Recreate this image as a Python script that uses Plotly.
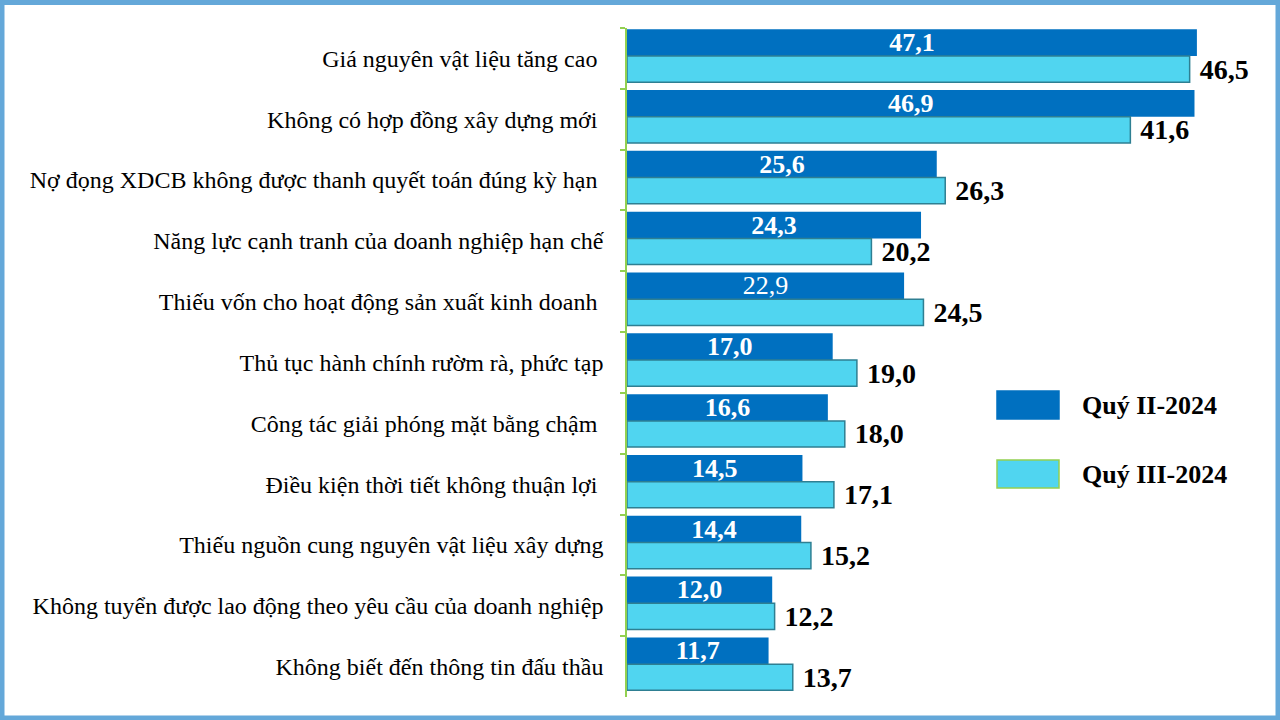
import plotly.graph_objects as go

# Dữ liệu
categories = [
    "Giá nguyên vật liệu tăng cao ",
    "Không có hợp đồng xây dựng mới ",
    "Nợ đọng XDCB không được thanh quyết toán đúng kỳ hạn ",
    "Năng lực cạnh tranh của doanh nghiệp hạn chế",
    "Thiếu vốn cho hoạt động sản xuất kinh doanh ",
    "Thủ tục hành chính rườm rà, phức tạp",
    "Công tác giải phóng mặt bằng chậm ",
    "Điều kiện thời tiết không thuận lợi ",
    "Thiếu nguồn cung nguyên vật liệu xây dựng",
    "Không tuyển được lao động theo yêu cầu của doanh nghiệp",
    "Không biết đến thông tin đấu thầu",
]
q2_name = "Quý II-2024"
q3_name = "Quý III-2024"
q2_values = [47.1, 46.9, 25.6, 24.3, 22.9, 17.0, 16.6, 14.5, 14.4, 12.0, 11.7]
q3_values = [46.5, 41.6, 26.3, 20.2, 24.5, 19.0, 18.0, 17.1, 15.2, 12.2, 13.7]

W, H = 1280, 720
L, R, T, B = 627, 23, 28, 23
PW, PH = W - L - R, H - T - B
FONT = "Liberation Serif"


def vn(v):
    return f"{v:.1f}".replace(".", ",")


def px(x, y):
    # pixel -> paper
    return (x - L) / PW, (H - B - y) / PH


q2_text = [vn(v) if v == 22.9 else f"<b>{vn(v)}</b>" for v in q2_values]
q3_text = [f"\u00a0<b>{vn(v)}</b>" for v in q3_values]

fig = go.Figure()
fig.add_trace(go.Bar(
    y=categories, x=q2_values, orientation="h", name=q2_name,
    offset=-0.48, width=0.44,
    marker=dict(color="#0070C0", line=dict(width=0)),
    text=q2_text, textposition="inside", insidetextanchor="middle",
    constraintext="none",
    textfont=dict(family=FONT, size=26, color="white"),
    cliponaxis=False,
))
fig.add_trace(go.Bar(
    y=categories, x=q3_values, orientation="h", name=q3_name,
    offset=-0.04, width=0.43,
    marker=dict(color="#50D5F0", line=dict(color="#2E7F92", width=1.5)),
    text=q3_text, textposition="outside", constraintext="none",
    textfont=dict(family=FONT, size=28, color="black"),
    cliponaxis=False,
))

fig.update_layout(
    width=W, height=H,
    barmode="overlay",
    showlegend=False,
    paper_bgcolor="white", plot_bgcolor="white",
    margin=dict(l=L, r=R, t=T, b=B),
    font=dict(family=FONT, color="black"),
    xaxis=dict(range=[0, PW / 12.1], visible=False),
    yaxis=dict(
        autorange="reversed", type="category",
        showline=True, linecolor="#92D050", linewidth=1.5,
        ticks="outside", ticklen=5, tickcolor="#92D050", tickwidth=1.5,
        tickson="boundaries", showgrid=False,
        tickfont=dict(family=FONT, size=24, color="black"),
        ticklabelstandoff=17,
    ),
)

# Chú giải
legend = [(q2_name, "#0070C0", "#0070C0", 391, 419),
          (q3_name, "#50D5F0", "#92D050", 460, 488)]
for name, fill, edge, y0, y1 in legend:
    x0p, y0p = px(997, y1)
    x1p, y1p = px(1059, y0)
    fig.add_shape(type="rect", xref="paper", yref="paper",
                  x0=x0p, x1=x1p, y0=y0p, y1=y1p,
                  fillcolor=fill, line=dict(color=edge, width=1.5))
    tx, ty = px(1080, (y0 + y1) / 2)
    fig.add_annotation(xref="paper", yref="paper", x=tx, y=ty,
                       xanchor="left", yanchor="middle", showarrow=False,
                       text=f"<b>{name}</b>",
                       font=dict(family=FONT, size=26, color="black"))

# Khung viền
fx0, fy0 = px(2, 718)
fx1, fy1 = px(1278, 2.5)
fig.add_shape(type="rect", xref="paper", yref="paper",
              x0=fx0, x1=fx1, y0=fy0, y1=fy1,
              line=dict(color="#64A8D9", width=5), layer="above")

fig.write_html("out.html", config={"displayModeBar": False},
               post_script="document.body.style.margin='0';")
